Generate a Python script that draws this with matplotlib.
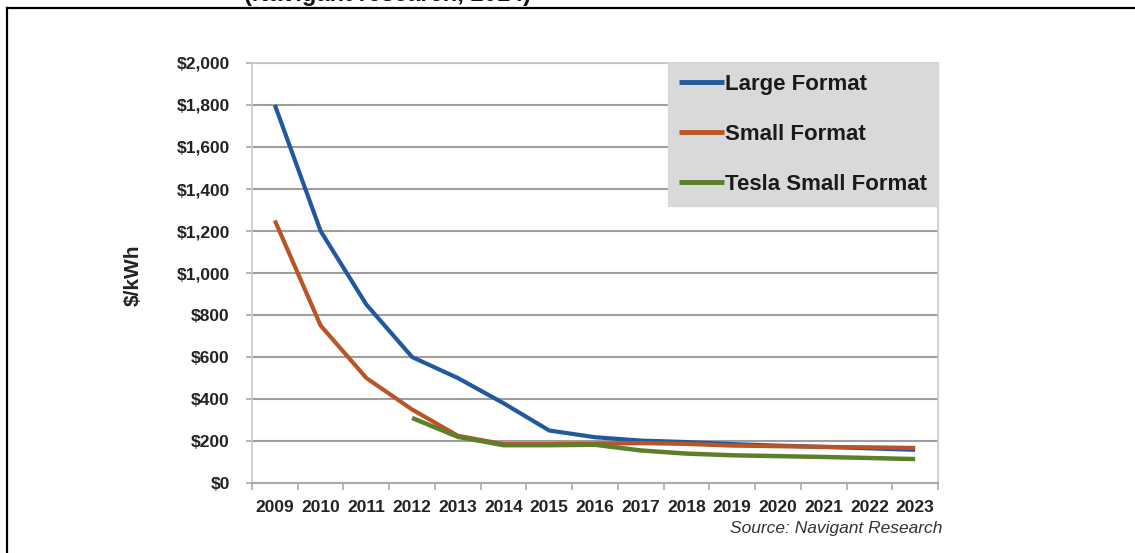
import matplotlib.pyplot as plt
from matplotlib.lines import Line2D
import numpy as np

years = [str(y) for y in range(2009, 2024)]

large_format = [1800, 1200, 850, 600, 500, 380, 250, 218, 202, 195, 185, 178, 172, 165, 158]
small_format = [1250, 750, 500, 350, 225, 185, 185, 187, 190, 186, 178, 175, 172, 170, 167]
# Tesla series only starts in 2012
tesla_years = years[3:]
tesla_small = [310, 220, 180, 180, 182, 155, 140, 132, 128, 124, 119, 114]

y_ticks = list(range(0, 2001, 200))
y_ticklabels = ['$0'] + ['${:,}'.format(v) for v in y_ticks[1:]]

plt.rcParams['font.family'] = ['Liberation Sans', 'DejaVu Sans']

fig = plt.figure(figsize=(11.35, 5.53), dpi=100)
W, H = 1135.0, 553.0

ax = fig.add_axes([252 / W, 1 - 483 / H, (938 - 252) / W, (483 - 63) / H])

x = np.arange(len(years))
xt = np.arange(3, len(years))

ax.plot(x, large_format, color='#22599c', lw=3, label='Large Format', solid_capstyle='butt', zorder=3)
ax.plot(x, small_format, color='#bb5425', lw=3, label='Small Format', solid_capstyle='butt', zorder=4)
ax.plot(xt, tesla_small, color='#5b7f2b', lw=3.2, label='Tesla Small Format', solid_capstyle='butt', zorder=5)

ax.set_xlim(-0.5, len(years) - 0.5)
ax.set_ylim(0, 2000)

ax.set_yticks(y_ticks)
ax.set_yticklabels(y_ticklabels, fontsize=12.5, fontweight='bold', color='#222222')
ax.set_xticks(x)
ax.set_xticklabels(years, fontsize=12.5, fontweight='bold', color='#222222')
ax.set_xticks(np.arange(-0.5, len(years)), minor=True)

ax.tick_params(axis='x', which='major', length=0, pad=12)
ax.tick_params(axis='x', which='minor', length=5, color='#aaaaaa', width=1.2)
ax.tick_params(axis='y', length=4, color='#aaaaaa', width=1.2, pad=12)

ax.grid(axis='y', color='#9e9e9e', linewidth=1.5)
ax.set_axisbelow(True)
for s in ax.spines.values():
    s.set_color('#c8c8c8')
    s.set_linewidth(1.2)
ax.spines['bottom'].set_color('#aaaaaa')
ax.spines['bottom'].set_linewidth(1.5)

leg = ax.legend(loc='upper right', borderaxespad=0, frameon=True, fancybox=False,
                facecolor='#d9d9d9', edgecolor='#d9d9d9', framealpha=1,
                prop={'weight': 'bold', 'size': 16}, handlelength=2.0,
                handletextpad=0.05, labelspacing=1.3, borderpad=0.5)
for t in leg.get_texts():
    t.set_color('#1a1a1a')
for l in leg.get_lines():
    l.set_linewidth(3.5)

fig.text(133 / W, 1 - 275 / H, '$/kWh', rotation=90, ha='center', va='center',
         fontsize=15, fontweight='bold', color='#222222')
fig.text(942 / W, 1 - 528 / H, 'Source: Navigant Research', ha='right', va='center',
         fontsize=12.5, style='italic', color='#333333')

# heading sits mostly above the top edge, only its lower part shows
fig.text(388 / W, 1 - 1.5 / H, '(Navigant research, 2014)', ha='center', va='baseline',
         fontsize=17, fontweight='bold', color='#111111')
fig.add_artist(Line2D([7 / W, 7 / W], [0, 1 - 8 / H], color='black', lw=1.6,
                      transform=fig.transFigure))
fig.add_artist(Line2D([7 / W, 1.0], [1 - 8 / H, 1 - 8 / H], color='black', lw=1.6,
                      transform=fig.transFigure))

fig.savefig('out.png', dpi=100)
